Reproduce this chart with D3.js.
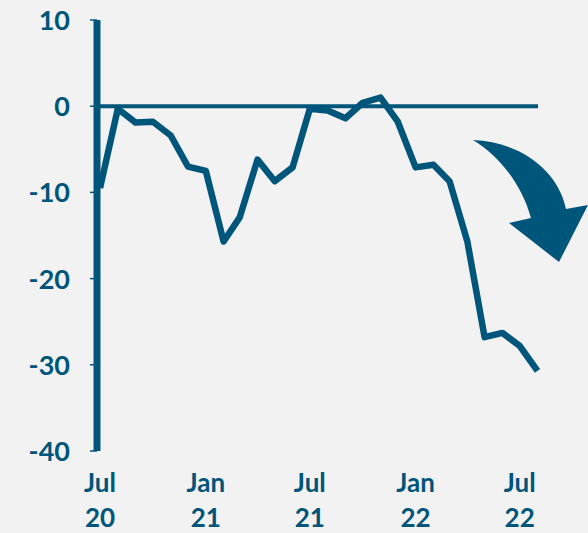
<!DOCTYPE html>
<html>
<head>
<meta charset="utf-8">
<script src="https://cdnjs.cloudflare.com/ajax/libs/d3/7.8.5/d3.min.js"></script>
<style>
  html, body { margin: 0; padding: 0; background: #f2f2f2; }
  svg { display: block; }
  .lbl { font-family: Lato, "Open Sans", sans-serif; font-weight: 700; fill: #00567a; font-size: 27px; }
  .xlbl { font-size: 26px; }
</style>
</head>
<body>
<svg id="chart" width="588" height="533"></svg>
<script>
// monthly values, Jul 2020 .. Aug 2022
var months = ["2020-07","2020-08","2020-09","2020-10","2020-11","2020-12",
              "2021-01","2021-02","2021-03","2021-04","2021-05","2021-06",
              "2021-07","2021-08","2021-09","2021-10","2021-11","2021-12",
              "2022-01","2022-02","2022-03","2022-04","2022-05","2022-06",
              "2022-07","2022-08"];
var values = [-9.5, -0.3, -1.9, -1.8, -3.4, -7.0,
              -7.5, -15.7, -12.9, -6.2, -8.7, -7.1,
              -0.3, -0.5, -1.4, 0.4, 1.0, -1.8,
              -7.1, -6.8, -8.7, -15.7, -26.8, -26.3,
              -27.8, -30.7];
var yTicks = [10, 0, -10, -20, -30, -40];
var xTickDates = ["2020-07","2021-01","2021-07","2022-01","2022-07"];
var xTickLabels = [["Jul","20"],["Jan","21"],["Jul","21"],["Jan","22"],["Jul","22"]];

var color = "#00567a";
var svg = d3.select("#chart");
var parse = d3.timeParse("%Y-%m");

var data = months.map(function(m, i){ return {date: parse(m), value: values[i]}; });

var x = d3.scaleTime()
    .domain([parse("2020-07"), parse("2022-08")])
    .range([100, 537.5]);
var y = d3.scaleLinear().domain([-40, 10]).range([451, 20]);

// y tick labels
svg.selectAll("text.ylbl")
    .data(yTicks)
    .enter()
    .append("text")
    .attr("class", "lbl ylbl")
    .attr("x", 70)
    .attr("y", function(d){ return y(d) + 10; })
    .attr("text-anchor", "end")
    .text(function(d){ return d; });

// small ticks on the axis
svg.selectAll("line.ytick")
    .data(yTicks)
    .enter()
    .append("line")
    .attr("x1", 90).attr("x2", 97)
    .attr("y1", function(d){ return y(d); })
    .attr("y2", function(d){ return y(d); })
    .attr("stroke", color)
    .attr("stroke-width", 1.5);

// vertical axis
svg.append("line")
    .attr("x1", 97).attr("x2", 97)
    .attr("y1", y(10)).attr("y2", y(-40))
    .attr("stroke", color)
    .attr("stroke-width", 7);

// zero line
svg.append("line")
    .attr("x1", 97).attr("x2", 538)
    .attr("y1", y(0)).attr("y2", y(0))
    .attr("stroke", color)
    .attr("stroke-width", 4);

// x labels (two rows)
var xl = svg.selectAll("g.xl")
    .data(xTickDates)
    .enter()
    .append("g")
    .attr("transform", function(d){ return "translate(" + x(parse(d)) + ",0)"; });
xl.append("text")
    .attr("class", "lbl xlbl")
    .attr("text-anchor", "middle")
    .attr("y", 492)
    .text(function(d, i){ return xTickLabels[i][0]; });
xl.append("text")
    .attr("class", "lbl xlbl")
    .attr("text-anchor", "middle")
    .attr("y", 527)
    .text(function(d, i){ return xTickLabels[i][1]; });

// the series
var line = d3.line()
    .x(function(d){ return x(d.date); })
    .y(function(d){ return y(d.value); });
svg.append("path")
    .datum(data)
    .attr("d", line)
    .attr("fill", "none")
    .attr("stroke", color)
    .attr("stroke-width", 6.5)
    .attr("stroke-linejoin", "round");

// curved arrow pointing down
var arrow = d3.path();
arrow.moveTo(473, 140);
arrow.bezierCurveTo(520, 142, 558, 170, 566, 209);
arrow.lineTo(588, 205);
arrow.lineTo(559, 262);
arrow.lineTo(509, 223);
arrow.lineTo(531, 218);
arrow.bezierCurveTo(522, 186, 502, 158, 473, 140);
arrow.closePath();
svg.append("path")
    .attr("d", arrow.toString())
    .attr("fill", color);
</script>
</body>
</html>
